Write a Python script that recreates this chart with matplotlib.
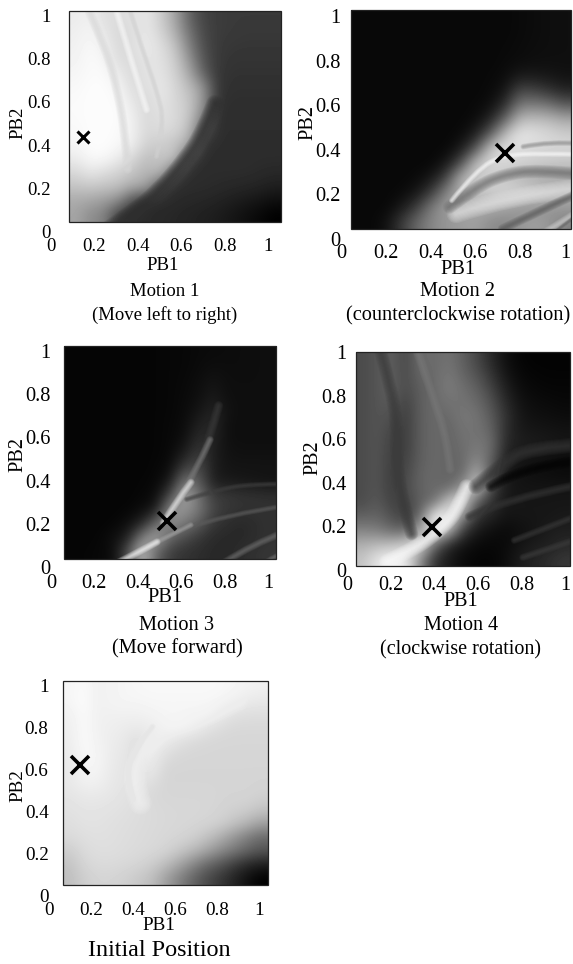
import numpy as np
import matplotlib
matplotlib.use("Agg")
import matplotlib.pyplot as plt
from matplotlib.patches import Rectangle, PathPatch
from matplotlib.path import Path

W, H = 573, 964
plt.rcParams['font.family'] = ['Liberation Serif', 'DejaVu Serif']

ticks = [0, 0.2, 0.4, 0.6, 0.8, 1]
tick_labels = ['0', '0.2', '0.4', '0.6', '0.8', '1']

# Gray level (0-255) read across each panel, top row first
motion1 = [
 [235,240,222,220,225,232,205,165,100,68,60,58,58,58,58],
 [238,245,230,215,222,232,212,175,115,72,60,58,56,56,56],
 [240,248,240,215,222,235,222,195,130,78,58,55,54,54,54],
 [242,250,245,220,218,230,225,205,150,85,58,52,52,52,52],
 [245,250,250,235,215,228,228,210,170,100,55,50,50,50,50],
 [248,252,252,245,220,222,232,215,190,150,55,48,48,48,48],
 [250,252,252,250,230,215,230,215,200,150,50,46,46,46,46],
 [250,252,252,252,238,215,225,218,200,130,46,46,46,46,46],
 [248,252,252,250,240,215,220,215,190,90,46,46,46,46,46],
 [245,252,252,248,238,208,205,195,170,50,45,45,45,45,45],
 [235,248,248,235,215,190,195,200,70,45,45,45,45,44,44],
 [215,230,220,210,195,178,190,80,45,44,44,44,44,42,40],
 [195,200,195,190,170,165,70,45,44,44,42,40,38,35,30],
 [170,165,155,140,75,46,44,42,40,38,35,30,25,20,14],
 [165,140,130,60,45,42,40,38,35,32,28,22,15,8,0],
]
motion2 = [
 [8,8,8,8,8,8,8,8,8,8,8,10,12,14,15],
 [8,8,8,8,8,8,8,8,8,8,8,10,12,14,15],
 [8,8,8,8,8,8,8,8,8,8,9,11,13,14,15],
 [8,8,8,8,8,8,8,8,8,8,10,12,14,15,15],
 [8,8,8,8,8,8,8,8,8,9,12,25,25,22,18],
 [8,8,8,8,8,8,8,8,8,10,20,70,65,50,35],
 [8,8,8,8,8,8,8,8,9,14,45,120,125,115,90],
 [8,8,8,8,8,8,8,8,12,35,100,185,190,185,170],
 [8,8,8,8,8,8,8,10,30,90,190,232,225,215,205],
 [8,8,8,8,8,8,8,25,80,200,225,220,215,215,215],
 [8,8,8,8,8,8,22,75,195,215,215,210,205,200,195],
 [8,8,8,8,10,22,65,180,200,205,195,180,170,165,170],
 [8,8,8,10,22,60,135,175,195,205,215,215,205,190,175],
 [8,8,8,25,60,125,155,165,170,175,165,150,145,150,155],
 [8,8,18,60,105,135,150,155,160,140,135,150,160,150,130],
]
motion3 = [
 [5,5,5,5,5,5,6,7,8,10,11,12,13,14,14],
 [5,5,5,5,5,5,6,7,8,11,14,13,13,14,14],
 [5,5,5,5,5,5,6,7,9,13,20,14,14,14,14],
 [5,5,5,5,5,5,6,7,10,15,26,15,14,14,14],
 [5,5,5,5,5,5,6,7,11,20,35,18,14,14,14],
 [5,5,5,5,5,5,6,8,12,32,40,15,14,14,14],
 [5,5,5,5,5,5,6,8,15,45,35,15,14,14,14],
 [5,5,5,5,5,5,6,9,28,60,30,18,16,16,16],
 [5,5,5,5,5,5,7,12,60,75,30,20,20,20,20],
 [5,5,5,5,5,6,8,25,120,90,30,25,22,20,18],
 [5,5,5,5,5,7,12,70,170,110,60,55,50,48,45],
 [5,5,5,5,6,12,25,150,150,120,70,55,50,50,50],
 [5,5,5,6,15,35,110,140,120,90,55,45,40,45,50],
 [5,5,6,15,30,130,170,100,75,55,42,40,40,45,50],
 [5,6,8,12,80,190,100,60,50,45,40,40,45,50,55],
]
motion4 = [
 [75,85,95,70,110,105,115,95,70,40,15,5,3,3,3],
 [75,85,95,72,105,105,120,100,80,50,20,8,5,4,4],
 [75,85,95,75,95,105,125,110,95,65,30,12,8,6,6],
 [75,85,90,65,95,105,115,115,105,80,40,18,12,10,8],
 [75,85,80,60,95,105,105,120,115,90,50,22,16,14,12],
 [75,85,70,60,95,105,100,115,115,100,45,25,22,20,18],
 [75,85,65,60,95,105,100,110,120,110,40,30,28,25,22],
 [75,85,62,65,95,105,100,105,135,100,30,22,18,15,12],
 [75,85,60,70,100,105,100,100,180,75,25,18,14,12,10],
 [75,85,60,75,100,105,100,150,215,70,25,20,20,20,20],
 [75,90,65,65,95,110,200,235,90,50,25,22,22,22,22],
 [95,100,80,60,100,245,245,140,50,35,20,22,22,22,25],
 [130,125,105,100,165,240,190,60,25,15,10,15,20,28,30],
 [175,185,190,210,235,110,40,20,10,8,10,20,28,30,40],
 [195,230,245,240,140,50,25,10,5,5,12,28,35,45,55],
]
initial = [
 [245,250,240,243,245,247,248,248,248,248,248,247,245,242,240],
 [245,252,240,243,245,245,246,246,246,246,246,245,240,235,232],
 [240,250,240,240,240,240,243,245,245,244,245,235,225,222,222],
 [238,250,240,238,235,233,235,243,245,240,228,220,216,216,216],
 [236,250,242,236,232,220,240,235,225,218,215,214,214,214,214],
 [234,248,245,235,230,222,238,222,215,214,214,214,214,214,214],
 [232,245,244,234,228,225,235,213,213,213,213,213,213,213,213],
 [232,240,240,232,228,228,222,213,213,213,213,213,213,213,212],
 [228,232,232,230,226,222,216,214,214,214,214,213,212,212,208],
 [225,228,228,226,224,221,218,216,215,215,214,212,208,205,195],
 [222,226,226,224,222,220,218,216,215,214,212,208,195,180,160],
 [218,222,224,223,221,219,217,215,213,208,195,175,150,125,105],
 [205,218,222,222,220,218,216,212,200,185,165,140,120,100,85],
 [195,212,218,218,216,213,205,190,165,135,105,85,60,40,28],
 [190,205,212,212,208,200,190,160,130,100,75,55,35,15,0],
]

# Ridges and bands seen in each panel: (gray, width in px, [(x, y) as fractions of the panel, y from top])
ridges1 = [
 (46, 9, [(.18,1.04),(.31,.95),(.42,.86),(.55,.71),(.64,.57),(.69,.44)]),
 (218, 5, [(.10,.01),(.18,.19),(.234,.39),(.266,.58),(.28,.75)]),
 (212, 3, [(.29,0),(.35,.19),(.415,.376),(.454,.533),(.415,.69)]),
 (250, 4, [(.226,0),(.305,.266),(.368,.47)]),
]
ridges2 = [
 (228, 10, [(.48,.93),(.71,.85),(1.05,.81)]),
 (110, 7, [(.45,.90),(.573,.807),(.694,.753),(.845,.73),(1.05,.75)]),
 (145, 3, [(.785,.624),(.906,.60),(1.05,.61)]),
 (252, 3, [(.46,.87),(.573,.73),(.694,.662),(.876,.655),(1.05,.66)]),
 (90, 5, [(.69,1.0),(.83,.93),(1.05,.83)]),
 (205, 4, [(.876,1.02),(1.05,.91)]),
 (105, 2, [(.92,1.02),(1.05,.92)]),
]
ridges3 = [
 (65, 3, [(.58,.72),(.72,.676),(.878,.648),(1.05,.648)]),
 (60, 5, [(.73,.28),(.69,.42),(.655,.52)]),
 (125, 4, [(.69,.44),(.61,.61),(.56,.69)]),
 (235, 4, [(.60,.64),(.53,.73),(.47,.83)]),
 (95, 3, [(.56,.86),(.77,.79),(1.05,.75)]),
 (165, 3, [(.40,.94),(.50,.89),(.60,.84)]),
 (250, 4, [(.25,1.02),(.36,.965),(.44,.92)]),
 (110, 4, [(.75,1.02),(.89,.93),(1.05,.87)]),
 (115, 3, [(.94,1.02),(1.05,.96)]),
]
ridges4 = [
 (60, 7, [(.11,-.02),(.175,.21),(.19,.366),(.19,.52),(.22,.71),(.26,.85)]),
 (122, 5, [(.28,-.02),(.36,.21),(.425,.41),(.44,.55)]),
 (252, 8, [(.517,.63),(.47,.74),(.424,.80),(.346,.87),(.25,.93),(.143,.98)]),
 (55, 8, [(.56,.63),(.69,.52),(.81,.45),(1.05,.435)]),
 (5, 6, [(.63,.63),(.78,.535),(1.05,.51)]),
 (55, 5, [(.53,.77),(.69,.69),(1.05,.62)]),
 (58, 4, [(.74,.88),(1.05,.76)]),
 (62, 4, [(.78,.96),(1.05,.87)]),
]
ridges5 = [
 (244, 12, [(.38,.60),(.34,.49),(.38,.36),(.47,.245),(.60,.195),(.73,.163),(.85,.10)]),
 (230, 3, [(.345,.58),(.31,.46),(.35,.34),(.44,.225)]),
]

marker_pb1 = [0.147, 0.73, 0.535, 0.39, 0.148]
marker_pb2 = [0.438, 0.386, 0.212, 0.195, 0.624]
titles = [["Motion 1", "(Move left to right)"],
          ["Motion 2", "(counterclockwise rotation)"],
          ["Motion 3", "(Move forward)"],
          ["Motion 4", "(clockwise rotation)"],
          ["Initial Position"]]
grids = [motion1, motion2, motion3, motion4, initial]
all_ridges = [ridges1, ridges2, ridges3, ridges4, ridges5]

# layout, in pixels of the figure
layout = [
 dict(x0=51, x1=268, y0=232, y1=15, l=68.5, r=280.5, t=10.5, b=222, xl=(163,266), yl=(18,123), tx=165, ty=[292,315], ms=8, mew=2.2, xp=4, fs=13.5),
 dict(x0=341, x1=565, y0=239, y1=16, l=350.5, r=570.5, t=10, b=229, xl=(458,269), yl=(308,123), tx=458, ty=[291,316], ms=13, mew=2.6, xp=3.5, fs=14.7),
 dict(x0=51, x1=268, y0=567, y1=351, l=63.5, r=276, t=346, b=559, xl=(165,598), yl=(18,455), tx=177, ty=[626,649], ms=13, mew=2.6, xp=5, fs=14.7),
 dict(x0=347, x1=565, y0=570, y1=352, l=356, r=570, t=351.5, b=566, xl=(461,601), yl=(313,458), tx=461, ty=[626,650], ms=13, mew=2.6, xp=4, fs=14.5),
 dict(x0=49, x1=259, y0=896, y1=686, l=62.5, r=267.5, t=680.5, b=885, xl=(159,925), yl=(18,786), tx=159, ty=[951], ms=13, mew=2.6, xp=4, fs=13.8),
]


def ridge_path(pts, ext):
    xy = [(ext[0] + px*(ext[1]-ext[0]), ext[3] - py*(ext[3]-ext[2])) for px, py in pts]
    verts, codes = [xy[0]], [Path.MOVETO]
    for i in range(1, len(xy)-1):
        end = xy[i+1] if i == len(xy)-2 else ((xy[i][0]+xy[i+1][0])/2, (xy[i][1]+xy[i+1][1])/2)
        verts += [xy[i], end]
        codes += [Path.CURVE3, Path.CURVE3]
    if len(xy) == 2:
        verts.append(xy[1])
        codes.append(Path.LINETO)
    return Path(verts, codes)


fig = plt.figure(figsize=(W/100, H/100), dpi=100, facecolor='white')

for grid, ridges, L, mx, my, ttl in zip(grids, all_ridges, layout, marker_pb1, marker_pb2, titles):
    sx = L['x1'] - L['x0']
    sy = L['y0'] - L['y1']
    ax = fig.add_axes([L['x0']/W, 1 - L['y0']/H, (L['r']-L['x0'])/W, (L['y0']-L['t'])/H])
    ax.patch.set_alpha(0)
    ax.set_xlim(0, (L['r']-L['x0'])/sx)
    ax.set_ylim(0, (L['y0']-L['t'])/sy)
    ext = [(L['l']-L['x0'])/sx, (L['r']-L['x0'])/sx, (L['y0']-L['b'])/sy, (L['y0']-L['t'])/sy]
    ax.imshow(np.array(grid, float), cmap='gray', vmin=0, vmax=255, extent=ext,
              origin='upper', aspect='auto', interpolation='bicubic')
    for gray, width, pts in ridges:
        c = (gray/255,)*3
        path = ridge_path(pts, ext)
        for factor in np.linspace(1.9, 0.25, 8):
            p = PathPatch(path, fill=False, edgecolor=c, linewidth=width*0.72*factor, alpha=0.14,
                          capstyle='round', zorder=3)
            ax.add_patch(p)
            p.set_clip_path(Rectangle((ext[0], ext[2]), ext[1]-ext[0], ext[3]-ext[2], transform=ax.transData))
    ax.add_patch(Rectangle((ext[0], ext[2]), ext[1]-ext[0], ext[3]-ext[2], fill=False,
                           edgecolor='#222222', linewidth=0.9, clip_on=False, zorder=5))
    ax.plot([mx], [my], marker='x', color='black', ms=L['ms'], mew=L['mew'], ls='none', zorder=6)
    for s in ax.spines.values():
        s.set_visible(False)
    ax.set_xticks(ticks, tick_labels, fontsize=L['fs'])
    ax.set_yticks(ticks, tick_labels, fontsize=L['fs'])
    ax.tick_params(length=0, pad=L['xp'])
    ax.tick_params(axis='y', pad=0.3)
    fig.text(L['xl'][0]/W, 1-L['xl'][1]/H, 'PB1', fontsize=L['fs'], ha='center', va='center')
    fig.text(L['yl'][0]/W, 1-L['yl'][1]/H, 'PB2', fontsize=L['fs'], ha='center', va='center', rotation=90)
    big = len(ttl) == 1
    for line, ty in zip(ttl, L['ty']):
        fig.text(L['tx']/W, 1-ty/H, line, fontsize=17.4 if big else L['fs'], ha='center', va='center')

fig.savefig('out.png', dpi=100)
